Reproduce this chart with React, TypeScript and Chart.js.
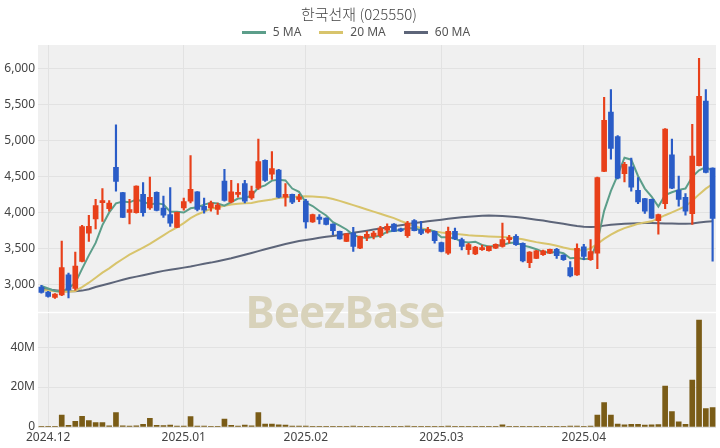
import React, { useEffect, useRef } from "react";
import { Chart, registerables } from "chart.js";
Chart.register(...registerables);

const dates = [
  "2024.11.29",
  "2024.12.02", "2024.12.03", "2024.12.04", "2024.12.05", "2024.12.06", "2024.12.09", "2024.12.10", "2024.12.11", "2024.12.12", "2024.12.13",
  "2024.12.16", "2024.12.17", "2024.12.18", "2024.12.19", "2024.12.20", "2024.12.23", "2024.12.24", "2024.12.26", "2024.12.27", "2024.12.30",
  "2025.01.02", "2025.01.03", "2025.01.06", "2025.01.07", "2025.01.08", "2025.01.09", "2025.01.10", "2025.01.13", "2025.01.14", "2025.01.15",
  "2025.01.16", "2025.01.17", "2025.01.20", "2025.01.21", "2025.01.22", "2025.01.23", "2025.01.24", "2025.01.31",
  "2025.02.03", "2025.02.04", "2025.02.05", "2025.02.06", "2025.02.07", "2025.02.10", "2025.02.11", "2025.02.12", "2025.02.13", "2025.02.14",
  "2025.02.17", "2025.02.18", "2025.02.19", "2025.02.20", "2025.02.21", "2025.02.24", "2025.02.25", "2025.02.26", "2025.02.27", "2025.02.28",
  "2025.03.03", "2025.03.04", "2025.03.05", "2025.03.06", "2025.03.07", "2025.03.10", "2025.03.11", "2025.03.12", "2025.03.13", "2025.03.14",
  "2025.03.17", "2025.03.18", "2025.03.19", "2025.03.20", "2025.03.21", "2025.03.24", "2025.03.25", "2025.03.26", "2025.03.27", "2025.03.28", "2025.03.31",
  "2025.04.01", "2025.04.02", "2025.04.03", "2025.04.04", "2025.04.07", "2025.04.08", "2025.04.09", "2025.04.10", "2025.04.11", "2025.04.14",
  "2025.04.15", "2025.04.16", "2025.04.17", "2025.04.18", "2025.04.21", "2025.04.22", "2025.04.23", "2025.04.24", "2025.04.25", "2025.04.28",
];

const opens = [
  2960, 2890, 2815, 2850, 3130, 2940, 3315, 3710, 3910, 4135,
  4050, 4625, 4275, 4000, 3995, 4250, 4060, 4280, 4060, 3970,
  3790, 4060, 4155, 4285, 4085, 4060, 4040, 4435, 4145, 4250,
  4400, 4200, 4335, 4725, 4530, 4590, 4210, 4250, 4180, 4155,
  3865, 3935, 3920, 3835, 3735, 3595, 3710, 3500, 3650, 3665,
  3675, 3750, 3835, 3770, 3675, 3885, 3760, 3725, 3735, 3580,
  3430, 3735, 3620, 3480, 3420, 3480, 3465, 3500, 3525, 3620,
  3665, 3570, 3300, 3360, 3410, 3430, 3485, 3405, 3230, 3130,
  3520, 3340, 3430, 4570, 5395, 5055, 4540, 4635, 4305, 4190,
  4180, 3885, 4120, 4800, 4305, 4210, 3980, 4650, 5550, 4615,
];
const highs = [
  2985, 2900, 2870, 3600, 3155, 3445, 3820, 3960, 4180, 4330,
  4165, 5220, 4280, 4180, 4370, 4415, 4490, 4285, 4225, 4345,
  4005, 4200, 4790, 4290, 4200, 4155, 4130, 4600, 4445, 4400,
  4445, 4365, 5020, 4730, 4845, 4600, 4400, 4255, 4250, 4180,
  3975, 3970, 3925, 3840, 3740, 3705, 3790, 3670, 3735, 3735,
  3805, 3840, 3845, 3780, 3875, 3900, 3875, 3790, 3740, 3585,
  3795, 3780, 3640, 3570, 3525, 3545, 3530, 3560, 3850, 3680,
  3690, 3575, 3455, 3470, 3475, 3490, 3500, 3410, 3315, 3560,
  3555, 3620, 4490, 5600, 5710, 5070, 4695, 4755, 4485, 4195,
  4185, 3975, 5165, 5020, 4505, 4260, 5225, 6145, 5710, 4620,
];
const lows = [
  2875, 2820, 2800, 2840, 2810, 2915, 3310, 3595, 3770, 3875,
  4015, 4295, 3925, 3840, 3990, 3945, 4040, 4020, 3930, 3805,
  3785, 4030, 4130, 4020, 3990, 4015, 3970, 4155, 4130, 4210,
  4130, 4180, 4320, 4430, 4460, 4200, 4085, 4120, 4150, 3780,
  3860, 3840, 3825, 3690, 3625, 3590, 3455, 3495, 3605, 3630,
  3650, 3710, 3730, 3730, 3650, 3740, 3690, 3710, 3570, 3450,
  3415, 3620, 3475, 3415, 3410, 3470, 3460, 3495, 3515, 3570,
  3540, 3310, 3230, 3355, 3400, 3425, 3360, 3330, 3100, 3120,
  3340, 3330, 3215, 4565, 4740, 4465, 4425, 4295, 4120, 3985,
  3915, 3695, 4050, 4330, 4085, 3960, 3830, 4645, 4550, 3320,
];
const closes = [
  2885, 2830, 2860, 3230, 2920, 3250, 3800, 3805, 4095, 4165,
  4130, 4430, 3930, 4040, 4365, 3995, 4210, 4025, 3960, 3850,
  4000, 4150, 4320, 4040, 4030, 4130, 4100, 4165, 4285, 4280,
  4155, 4295, 4705, 4445, 4610, 4210, 4250, 4140, 4215, 3865,
  3970, 3900, 3830, 3745, 3630, 3700, 3525, 3665, 3695, 3710,
  3780, 3805, 3735, 3740, 3850, 3745, 3705, 3760, 3605, 3455,
  3735, 3630, 3525, 3550, 3515, 3510, 3525, 3555, 3620, 3650,
  3550, 3325, 3445, 3465, 3465, 3485, 3395, 3340, 3115, 3500,
  3385, 3455, 4485, 5280, 4890, 4475, 4670, 4350, 4145, 4015,
  3920, 3970, 5160, 4335, 4180, 4015, 4785, 5615, 4555, 3915,
];
// volume in millions of shares
const volumes = [
  0.3, 0.2, 0.3, 6.0, 0.8, 2.8, 5.3, 3.2, 2.2, 2.2,
  0.6, 7.2, 0.6, 0.5, 0.6, 1.3, 4.4, 0.8, 0.7, 1.0,
  0.4, 0.4, 5.2, 0.5, 0.5, 0.3, 0.3, 4.0, 0.8, 0.5,
  1.0, 0.6, 7.2, 1.4, 1.4, 1.1, 1.0, 0.4, 0.4, 0.4,
  0.3, 0.2, 0.2, 0.2, 0.2, 0.2, 0.4, 0.2, 0.2, 0.2,
  0.2, 0.2, 0.2, 0.2, 0.5, 0.2, 0.2, 0.2, 0.2, 0.3,
  0.5, 0.3, 0.2, 0.2, 0.2, 0.2, 0.2, 0.2, 1.1, 0.2,
  0.2, 0.3, 0.2, 0.2, 0.2, 0.2, 0.2, 0.2, 0.4, 0.5,
  0.3, 0.4, 6.0, 12.2, 6.0, 1.5, 1.1, 1.3, 1.3, 1.0,
  1.1, 1.2, 20.5, 7.7, 2.6, 1.3, 23.5, 53.5, 9.2, 9.7,
];
const ma5 = [
  2975, 2940, 2905, 2895, 2945, 3018, 3212, 3401, 3574, 3823,
  3999, 4125, 4150, 4139, 4179, 4152, 4108, 4127, 4111, 4008,
  4009, 3997, 4056, 4072, 4108, 4134, 4124, 4093, 4142, 4192,
  4197, 4236, 4344, 4376, 4442, 4453, 4444, 4331, 4285, 4136,
  4088, 4018, 3956, 3862, 3815, 3761, 3686, 3653, 3643, 3659,
  3675, 3731, 3745, 3754, 3782, 3775, 3755, 3760, 3733, 3654,
  3652, 3637, 3590, 3579, 3591, 3546, 3525, 3531, 3545, 3572,
  3580, 3540, 3518, 3487, 3450, 3437, 3451, 3430, 3360, 3367,
  3347, 3359, 3588, 4021, 4299, 4517, 4760, 4733, 4506, 4331,
  4220, 4080, 4242, 4280, 4313, 4332, 4495, 4586, 4630, 4577,
];
const ma20 = [
  2920, 2910, 2900, 2895, 2895, 2905, 2960, 3020, 3090, 3160,
  3220, 3290, 3350, 3410, 3460, 3510, 3560, 3620, 3680, 3740,
  3790, 3850, 3920, 3970, 4010, 4050, 4070, 4090, 4110, 4120,
  4125, 4130, 4150, 4165, 4180, 4200, 4210, 4215, 4220, 4225,
  4222, 4215, 4205, 4185, 4160, 4130, 4100, 4070, 4040, 4010,
  3980, 3950, 3920, 3880, 3845, 3810, 3780, 3755, 3735, 3720,
  3710, 3700, 3690, 3680, 3675, 3670, 3665, 3660, 3655, 3650,
  3640, 3625, 3605, 3585, 3570, 3555, 3535, 3510, 3490, 3480,
  3465, 3500, 3560, 3630, 3690, 3740, 3780, 3810, 3840, 3860,
  3875, 3915, 3960, 4000, 4040, 4085, 4160, 4250, 4330, 4395,
];
const ma60 = [
  2935, 2925, 2915, 2905, 2900, 2900, 2910, 2930, 2960, 2985,
  3010, 3035, 3060, 3085, 3105, 3125, 3145, 3165, 3185, 3200,
  3215, 3230, 3245, 3265, 3285, 3300, 3320, 3340, 3360, 3385,
  3410, 3435, 3460, 3485, 3510, 3535, 3560, 3580, 3600, 3615,
  3630, 3645, 3660, 3672, 3685, 3700, 3715, 3730, 3745, 3760,
  3775, 3790, 3805, 3820, 3835, 3850, 3862, 3875, 3887, 3898,
  3910, 3922, 3932, 3940, 3947, 3952, 3955, 3952, 3948, 3942,
  3935, 3925, 3912, 3898, 3885, 3870, 3855, 3840, 3825, 3810,
  3800, 3795, 3800, 3815, 3828, 3835, 3840, 3845, 3848, 3850,
  3850, 3848, 3845, 3843, 3840, 3840, 3845, 3860, 3870, 3875,
];

const priceTicks = [3000, 3500, 4000, 4500, 5000, 5500, 6000];
const volumeTicks = [0, 20, 40];
const title = "한국선재 (025550)";
const maLabels = ["5 MA", "20 MA", "60 MA"];

const UP = "#e8401a";
const DOWN = "#2a5cc7";
const MA_COLORS = ["#5c9e8a", "#d8c46c", "#5d6579"];
const VOL_COLOR = "#7a5c17";
const PLOT_BG = "#f0f0f0";
const GRID = "#e2e2e2";
const TICK_COLOR = "#444";
const FONT = "'Noto Sans', 'Noto Sans CJK KR', sans-serif";

const monthStarts = dates
  .map((d, i) => (i > 0 && d.slice(0, 7) !== dates[i - 1].slice(0, 7) ? i : -1))
  .filter((i) => i >= 0);

const plotBg = {
  id: "plotBg",
  beforeDraw(chart: any) {
    const { ctx, chartArea: a } = chart;
    ctx.save();
    ctx.fillStyle = PLOT_BG;
    ctx.fillRect(a.left, a.top, a.right - a.left, a.bottom - a.top);
    ctx.restore();
  },
};

export default function App() {
  const priceRef = useRef<HTMLCanvasElement>(null);
  const volRef = useRef<HTMLCanvasElement>(null);

  useEffect(() => {
    document.body.style.margin = "0";
    const colors = closes.map((c, i) => (c >= opens[i] ? UP : DOWN));

    const xScale = (showTicks: boolean, height: number) => ({
      type: "category" as const,
      offset: true,
      grid: { offset: false, color: GRID, drawTicks: false },
      border: { display: false },
      afterBuildTicks: (s: any) => {
        s.ticks = monthStarts.map((i) => ({ value: i }));
      },
      afterFit: (s: any) => {
        s.height = height;
      },
      ticks: {
        display: showTicks,
        autoSkip: false,
        maxRotation: 0,
        padding: 3,
        color: TICK_COLOR,
        font: { size: 12, family: FONT },
        callback: (v: any) => dates[v].slice(0, 7),
      },
    });

    const priceChart = new Chart(priceRef.current!, {
      type: "bar",
      data: {
        labels: dates,
        datasets: [
          ...[ma5, ma20, ma60].map((d, k) => ({
            type: "line" as const,
            label: maLabels[k],
            data: d,
            borderColor: MA_COLORS[k],
            backgroundColor: MA_COLORS[k],
            borderWidth: 2,
            pointRadius: 0,
            tension: 0,
            order: 2,
          })),
          {
            type: "bar" as const,
            label: "wick",
            data: lows.map((l, i) => [l, highs[i]]),
            backgroundColor: colors,
            barThickness: 1.5,
            grouped: false,
            order: 1,
          },
          {
            type: "bar" as const,
            label: "body",
            data: opens.map((o, i) => [o, closes[i]]),
            backgroundColor: colors,
            barThickness: 5,
            minBarLength: 1,
            grouped: false,
            order: 0,
          },
        ] as any,
      },
      options: {
        responsive: false,
        animation: false,
        devicePixelRatio: 1,
        layout: { autoPadding: false, padding: { left: 0, right: 4, top: 45, bottom: 0 } },
        plugins: {
          title: { display: false },
          legend: { display: false },
          tooltip: { enabled: false },
        },
        scales: {
          x: xScale(false, 0) as any,
          y: {
            min: 2615,
            max: 6330,
            afterBuildTicks: (s: any) => {
              s.ticks = priceTicks.map((v) => ({ value: v }));
            },
            afterFit: (s: any) => {
              s.width = 38;
            },
            grid: { color: GRID, drawTicks: false },
            border: { display: false },
            ticks: {
              padding: 3,
              color: TICK_COLOR,
              font: { size: 12, family: FONT },
              callback: (v: any) => Number(v).toLocaleString("en-US"),
            },
          },
        },
      },
      plugins: [plotBg],
    });

    const volChart = new Chart(volRef.current!, {
      type: "bar",
      data: {
        labels: dates,
        datasets: [
          {
            label: "Volume",
            data: volumes,
            backgroundColor: VOL_COLOR,
            barThickness: 5,
          },
        ],
      },
      options: {
        responsive: false,
        animation: false,
        devicePixelRatio: 1,
        layout: { autoPadding: false, padding: { left: 0, right: 4, top: 0, bottom: 0 } },
        plugins: { legend: { display: false }, title: { display: false }, tooltip: { enabled: false } },
        scales: {
          x: xScale(true, 21) as any,
          y: {
            min: 0,
            max: 57,
            afterBuildTicks: (s: any) => {
              s.ticks = volumeTicks.map((v) => ({ value: v }));
            },
            afterFit: (s: any) => {
              s.width = 38;
            },
            grid: { color: GRID, drawTicks: false },
            border: { display: false },
            ticks: {
              padding: 3,
              color: TICK_COLOR,
              font: { size: 12, family: FONT },
              callback: (v: any) => (Number(v) === 0 ? "0" : `${v}M`),
            },
          },
        },
      },
      plugins: [plotBg],
    });

    return () => {
      priceChart.destroy();
      volChart.destroy();
    };
  }, []);

  const legendItem = (k: number) => (
    <div key={k} style={{ display: "flex", alignItems: "center", marginRight: k < 2 ? 18 : 0 }}>
      <span style={{ display: "inline-block", width: 24, height: 3, background: MA_COLORS[k], marginRight: 7 }} />
      <span>{maLabels[k]}</span>
    </div>
  );

  return (
    <div style={{ position: "relative", width: 720, height: 448, background: "#fff", overflow: "hidden" }}>
      <canvas ref={priceRef} width={720} height={322} style={{ display: "block", position: "absolute", left: 0, top: 0 }} />
      <canvas ref={volRef} width={720} height={145} style={{ display: "block", position: "absolute", left: 0, top: 303 }} />
      <div
        style={{
          position: "absolute",
          left: 0,
          top: 4,
          width: 718,
          textAlign: "center",
          fontFamily: "'Noto Sans CJK KR', sans-serif",
          fontWeight: 300,
          fontSize: 15,
          lineHeight: "20px",
          color: "#444",
        }}
      >
        {title}
      </div>
      <div
        style={{
          position: "absolute",
          left: 0,
          top: 24,
          width: 712,
          display: "flex",
          justifyContent: "center",
          fontFamily: FONT,
          fontSize: 12,
          lineHeight: "16px",
          color: "#555",
        }}
      >
        {[0, 1, 2].map(legendItem)}
      </div>
      <div
        style={{
          position: "absolute",
          left: 0,
          width: 690,
          top: 281,
          textAlign: "center",
          fontFamily: "'Noto Sans', sans-serif",
          fontWeight: 700,
          fontSize: 44,
          color: "#d8d2ba",
          lineHeight: "60px",
          pointerEvents: "none",
          letterSpacing: -1,
        }}
      >
        BeezBase
      </div>
    </div>
  );
}
